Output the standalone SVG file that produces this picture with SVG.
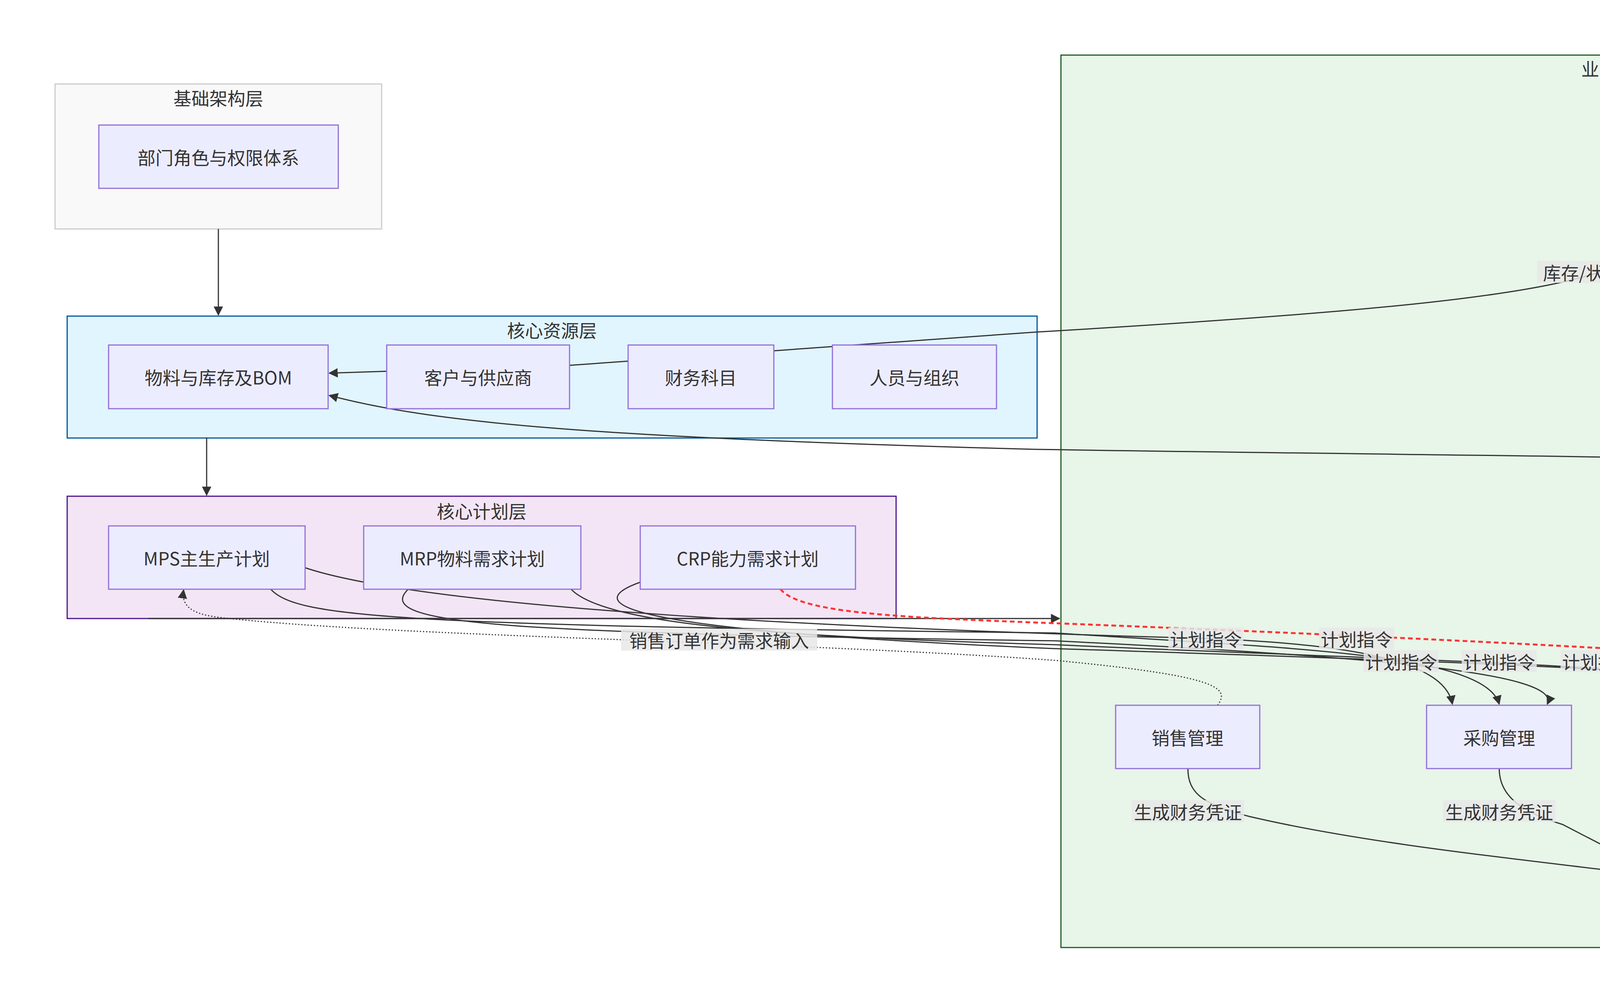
<svg xmlns="http://www.w3.org/2000/svg" width="5751" height="2567" viewBox="0 0 5751 2567">
<style>
text{font-family:"Noto Sans CJK SC","Liberation Sans",sans-serif;font-size:46px;fill:#333;text-anchor:middle;dominant-baseline:central}
.n{fill:#ECECFF;stroke:#9370DB;stroke-width:3}
.e{fill:none;stroke:#333;stroke-width:3}
.lb{fill:#e8e8e8;opacity:0.85}
</style>
<defs>
<marker id="a" viewBox="0 0 10 10" refX="9" refY="5" markerWidth="8" markerHeight="8" orient="auto"><path d="M0,0L10,5L0,10z" fill="#333"/></marker>
<marker id="r" viewBox="0 0 10 10" refX="9" refY="5" markerWidth="8" markerHeight="8" orient="auto"><path d="M0,0L10,5L0,10z" fill="#ff3333"/></marker>
</defs>
<rect width="5751" height="2567" fill="#fff"/>
<g id="base"><rect x="141" y="215" width="836" height="371" fill="#f9f9f9" stroke="#ccc" stroke-width="3"/><text x="559" y="249">基础架构层</text></g>
<g id="res"><rect x="172" y="809" width="2483" height="312" fill="#e1f5fe" stroke="#01579b" stroke-width="3"/><text x="1413" y="843">核心资源层</text></g>
<g id="plan"><rect x="172" y="1270" width="2122" height="313" fill="#f3e5f5" stroke="#4a148c" stroke-width="3"/><text x="1233" y="1306">核心计划层</text></g>
<g id="exec"><rect x="2716" y="141" width="2895" height="2284" fill="#e8f5e9" stroke="#1b5e20" stroke-width="3"/><text x="4163" y="174">业务执行层</text></g>
<g id="edges">
<path class="e" d="M559,586V806" marker-end="url(#a)"/>
<path class="e" d="M529,1121V1267" marker-end="url(#a)"/>
<path class="e" d="M5068,432C4700,530 4300,640 4097,696C3900,760 3500,800 2650,850 L1458,935 L843,955" marker-end="url(#a)"/>
<path class="e" d="M4835,1805C4950,1700 5002,1650 5002,1500V1270C5002,1160 4600,1180 2650,1150C1500,1120 1100,1080 843,1012" marker-end="url(#a)"/>
<path class="e" d="M5284,482C5330,620 5362,700 5362,800V2000C5362,2150 5000,2200 4530,2232" marker-end="url(#a)"/>
<path class="e" d="M3041,1967C3041,2030 3080,2060 3200,2090C3500,2160 3900,2200 4155,2232" marker-end="url(#a)"/>
<path class="e" d="M3838,1967C3838,2040 3900,2080 4000,2110L4155,2190" marker-end="url(#a)"/>
<path class="e" d="M4720,1967C4720,2060 4640,2120 4560,2189" marker-end="url(#a)"/>
<path class="e" d="M380,1583H2712" marker-end="url(#a)"/>
<path class="e" d="M781,1453C1100,1560 2200,1610 3087,1634C3500,1650 3700,1700 3718,1802" marker-end="url(#a)"/>
<path class="e" d="M693,1508C760,1580 1000,1600 2700,1620C3300,1660 3800,1670 3838,1802" marker-end="url(#a)"/>
<path class="e" d="M1045,1508C950,1600 1300,1620 2700,1640C3500,1680 4000,1720 3961,1802" marker-end="url(#a)"/>
<path class="e" d="M1462,1508C1550,1600 2000,1630 2700,1650C3800,1700 4500,1700 4547,1802" marker-end="url(#a)"/>
<path class="e" d="M1639,1490C1500,1540 1520,1610 2700,1660C3900,1700 4650,1720 4660,1802" marker-end="url(#a)"/>
<path d="M1998,1508C2050,1570 2300,1580 2700,1595C3600,1630 4400,1670 4700,1700C4790,1720 4790,1760 4782,1802" fill="none" stroke="#ff3333" stroke-width="5" stroke-dasharray="12,8" marker-end="url(#r)"/>
<path d="M3117,1805C3150,1760 3120,1730 2700,1690C2000,1640 1000,1630 560,1580C480,1570 465,1545 470,1510" fill="none" stroke="#333" stroke-width="3" stroke-dasharray="3,5" marker-end="url(#a)"/>
</g>
<g id="labels">
<rect class="lb" x="3935" y="668" width="324" height="56"/><text x="4097" y="696">库存/状态反馈</text>
<rect class="lb" x="4842" y="1396" width="320" height="56"/><text x="5002" y="1424">库存/状态反馈</text>
<rect class="lb" x="5218" y="1396" width="288" height="56"/><text x="5362" y="1424">生成财务凭证</text>
<rect class="lb" x="2897" y="2048" width="288" height="56"/><text x="3041" y="2076">生成财务凭证</text>
<rect class="lb" x="3694" y="2048" width="288" height="56"/><text x="3838" y="2076">生成财务凭证</text>
<rect class="lb" x="4576" y="2048" width="288" height="56"/><text x="4720" y="2076">生成财务凭证</text>
<rect class="lb" x="1590" y="1609" width="502" height="56"/><text x="1841" y="1637">销售订单作为需求输入</text>
<rect class="lb" x="2991" y="1606" width="192" height="56"/><text x="3087" y="1634">计划指令</text>
<rect class="lb" x="3377" y="1606" width="192" height="56"/><text x="3473" y="1634">计划指令</text>
<rect class="lb" x="3491" y="1664" width="192" height="56"/><text x="3587" y="1692">计划指令</text>
<rect class="lb" x="3742" y="1664" width="192" height="56"/><text x="3838" y="1692">计划指令</text>
<rect class="lb" x="3995" y="1664" width="192" height="56"/><text x="4091" y="1692">计划指令</text>
<rect class="lb" x="4246" y="1664" width="192" height="56"/><text x="4342" y="1692">计划指令</text>
</g>
<g id="n_dept"><rect class="n" x="253" y="320" width="613" height="162"/><text x="559" y="401">部门角色与权限体系</text></g>
<g id="n_mat"><rect class="n" x="278" y="883" width="562" height="163"/><text x="559" y="964">物料与库存及BOM</text></g>
<g id="n_cus"><rect class="n" x="990" y="883" width="468" height="163"/><text x="1224" y="964">客户与供应商</text></g>
<g id="n_acc"><rect class="n" x="1608" y="883" width="373" height="163"/><text x="1794" y="964">财务科目</text></g>
<g id="n_hr"><rect class="n" x="2131" y="883" width="420" height="163"/><text x="2341" y="964">人员与组织</text></g>
<g id="n_mps"><rect class="n" x="278" y="1346" width="503" height="162"/><text x="529" y="1427">MPS主生产计划</text></g>
<g id="n_mrp"><rect class="n" x="931" y="1346" width="556" height="162"/><text x="1209" y="1427">MRP物料需求计划</text></g>
<g id="n_crp"><rect class="n" x="1639" y="1346" width="551" height="162"/><text x="1914" y="1427">CRP能力需求计划</text></g>
<g id="n_wh"><rect class="n" x="5068" y="320" width="372" height="162"/><text x="5254" y="401">仓库管理</text></g>
<g id="n_sale"><rect class="n" x="2856" y="1805" width="369" height="162"/><text x="3040" y="1886">销售管理</text></g>
<g id="n_pur"><rect class="n" x="3652" y="1805" width="371" height="162"/><text x="3838" y="1886">采购管理</text></g>
<g id="n_prod"><rect class="n" x="4535" y="1805" width="372" height="162"/><text x="4721" y="1886">生产管理</text></g>
<g id="n_fin"><rect class="n" x="4158" y="2189" width="369" height="160"/><text x="4342" y="2269">财务管理</text></g>
<text x="5560" y="2495" style="font-size:26px;fill:#666">掘金技术社区 @ BirdAndNew</text>
</svg>
